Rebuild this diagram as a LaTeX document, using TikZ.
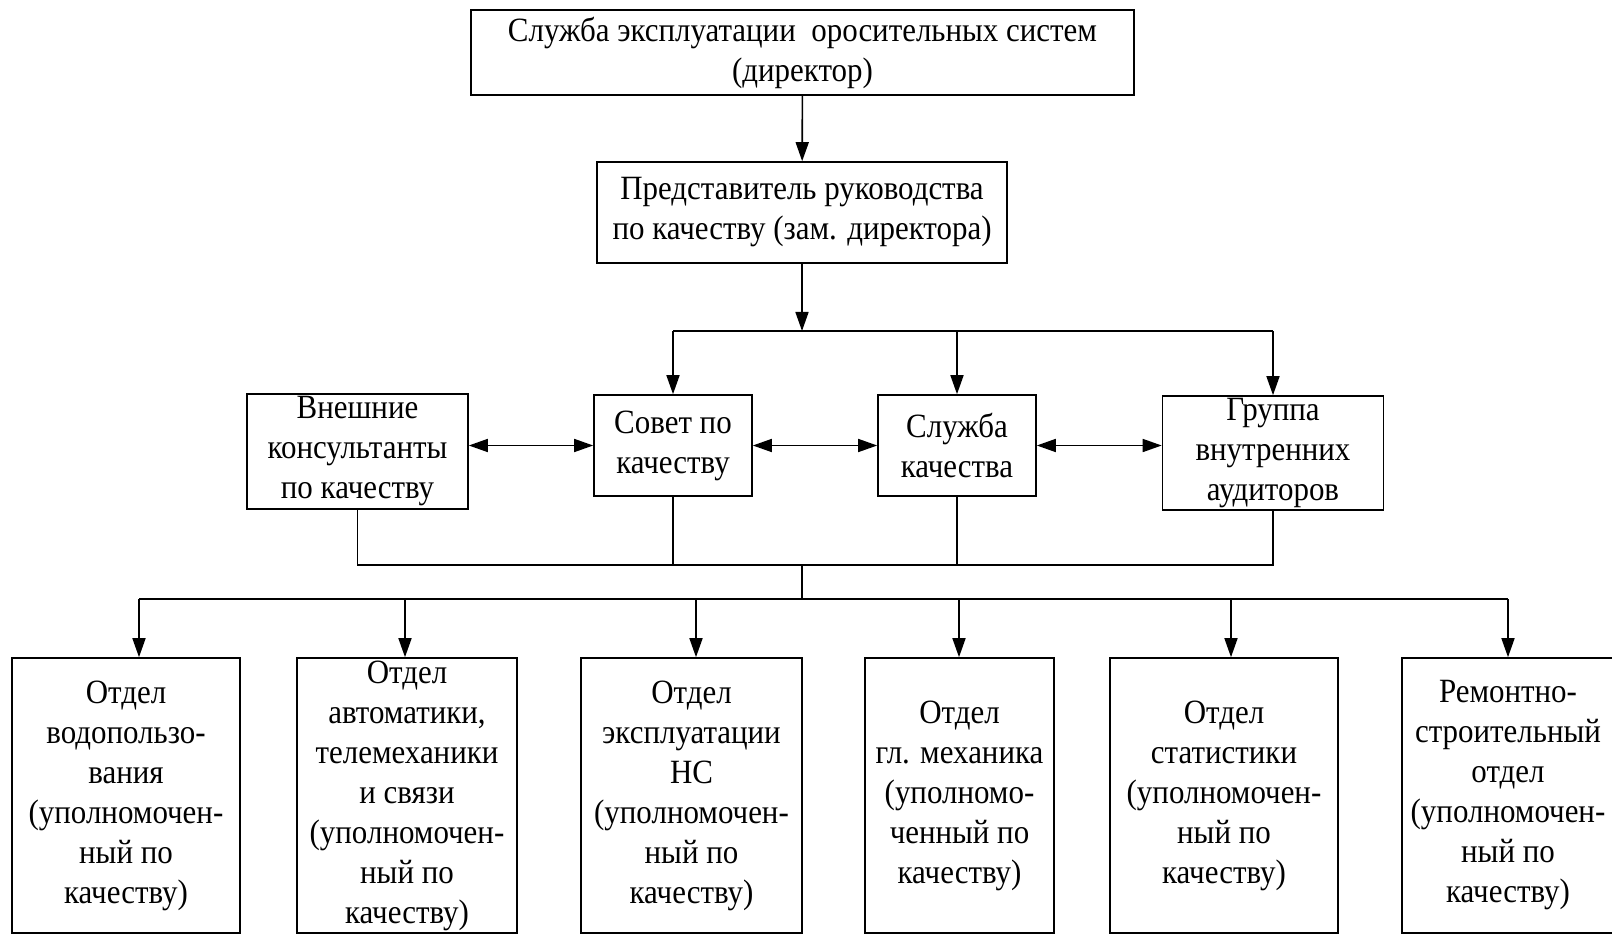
\documentclass[tikz,border=0pt]{standalone}
\usepackage{fontspec}
\setmainfont{Liberation Serif}[FakeStretch=0.91]
\usetikzlibrary{arrows.meta}
\tikzset{
  box/.style={draw, line width=0.8pt, align=center, inner sep=0pt,
    font=\fontsize{17pt}{20pt}\selectfont},
  conn/.style={line width=0.8pt},
  arr/.style={line width=0.8pt, -{Triangle[length=9.5pt,width=6.5pt]}},
  darr/.style={line width=0.8pt, {Triangle[length=9.5pt,width=6.5pt]}-{Triangle[length=9.5pt,width=6.5pt]}}
}
\begin{document}
\begin{tikzpicture}[x=0.5pt,y=-0.5pt]
\useasboundingbox (0,0) rectangle (1612,936);
% top level
\node[box, minimum width=331.5pt, minimum height=42.5pt] (top) at (802.5,52.5)
  {Служба эксплуатации\ \ оросительных систем\\(директор)};
\node[box, minimum width=205pt, minimum height=50.5pt] (rep) at (802,212.5)
  {Представитель руководства\\по качеству (зам. директора)};
% middle row
\node[box, minimum width=110.5pt, minimum height=57.5pt] (ext) at (357.5,451.5)
  {Внешние\\консультанты\\по качеству};
\node[box, minimum width=79pt, minimum height=50.5pt] (sov) at (673,445.5)
  {Совет по\\качеству};
\node[box, minimum width=79pt, minimum height=50.5pt] (skach) at (957,445.5)
  {Служба\\качества};
\node[box, minimum width=110.5pt, minimum height=57pt] (grp) at (1273,453)
  {Группа\\внутренних\\аудиторов};
% bottom row
\node[box, minimum width=114pt, minimum height=137.5pt] (d1) at (126,795.5)
  {Отдел\\водопользо-\\вания\\(уполномочен-\\ный по\\качеству)};
\node[box, minimum width=110pt, minimum height=137.5pt] (d2) at (407,795.5)
  {Отдел\\автоматики,\\телемеханики\\и связи\\(уполномочен-\\ный по\\качеству)};
\node[box, minimum width=110.5pt, minimum height=137.5pt] (d3) at (691.5,795.5)
  {Отдел\\эксплуатации\\НС\\(уполномочен-\\ный по\\качеству)};
\node[box, minimum width=94.5pt, minimum height=137.5pt] (d4) at (959.5,795.5)
  {Отдел\\гл. механика\\(уполномо-\\ченный по\\качеству)};
\node[box, minimum width=114pt, minimum height=137.5pt] (d5) at (1224,795.5)
  {Отдел\\статистики\\(уполномочен-\\ный по\\качеству)};
\node[box, minimum width=106pt, minimum height=137.5pt] (d6) at (1508,795.5)
  {Ремонтно-\\строительный\\отдел\\(уполномочен-\\ный по\\качеству)};
% bus coordinates
\coordinate (b1) at (802,331);
\coordinate (b2) at (802,565);
\coordinate (b3) at (802,599);
\coordinate (a1) at (139,599);
\coordinate (a2) at (405,599);
\coordinate (a3) at (696,599);
\coordinate (a4) at (959,599);
\coordinate (a5) at (1231,599);
\coordinate (a6) at (1508,599);
% connectors
\draw[arr] (top) -- (rep);
\draw[arr] (rep) -- (b1);
\draw[conn] (sov |- b1) -- (grp |- b1);
\draw[arr] (sov |- b1) -- (sov.north);
\draw[arr] (skach |- b1) -- (skach.north);
\draw[arr] (grp |- b1) -- (grp.north);
\draw[darr] (ext.east |- sov.west) -- (sov.west);
\draw[darr] (sov.east) -- (skach.west);
\draw[darr] (skach.east) -- (grp.west |- skach.east);
\draw[conn] (ext.south) -- (ext |- b2) -- (grp |- b2) -- (grp.south);
\draw[conn] (sov.south) -- (sov |- b2);
\draw[conn] (skach.south) -- (skach |- b2);
\draw[conn] (b2) -- (b3);
\draw[conn] (a1) -- (a6);
\draw[arr] (a1) -- (a1 |- d1.north);
\draw[arr] (a2) -- (a2 |- d2.north);
\draw[arr] (a3) -- (a3 |- d3.north);
\draw[arr] (a4) -- (a4 |- d4.north);
\draw[arr] (a5) -- (a5 |- d5.north);
\draw[arr] (a6) -- (a6 |- d6.north);
\end{tikzpicture}
\end{document}
